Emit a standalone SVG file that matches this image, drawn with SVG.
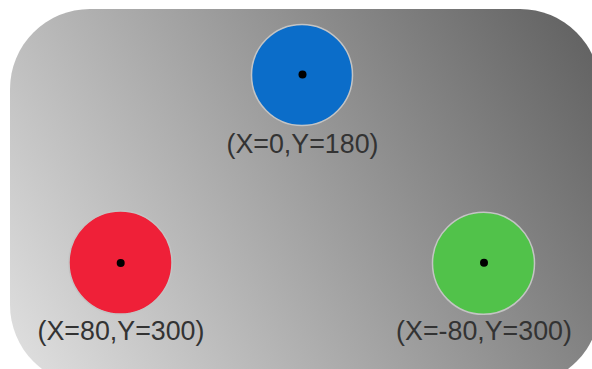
<svg xmlns="http://www.w3.org/2000/svg" width="592" height="369" viewBox="0 0 592 369">
  <defs>
    <linearGradient id="bg" gradientUnits="userSpaceOnUse" x1="10" y1="384" x2="600" y2="9">
      <stop offset="0" stop-color="#e2e2e2"/>
      <stop offset="1" stop-color="#5e5e5e"/>
    </linearGradient>
    <style>
      .node { stroke: #c4c4c4; stroke-width: 1.5; }
      .dot { fill: #000000; }
      .label { font-family: "Liberation Sans", Arial, sans-serif; font-size: 26.8px; fill: #333333; text-anchor: middle; }
    </style>
  </defs>
  <rect x="10" y="9" width="590" height="376" rx="80" ry="80" fill="url(#bg)"/>
  <g id="connectors"/>
  <g id="node-top">
    <circle class="node" cx="302" cy="75" r="50.5" fill="#0b6dc9"/>
    <circle class="dot" cx="302.5" cy="74.5" r="4"/>
    <text class="label" x="302.5" y="153">(X=0,Y=180)</text>
  </g>
  <g id="node-left">
    <circle class="node" cx="120.5" cy="262.5" r="51.5" fill="#ef2038"/>
    <circle class="dot" cx="120.7" cy="263" r="4"/>
    <text class="label" x="121" y="339.5">(X=80,Y=300)</text>
  </g>
  <g id="node-right">
    <circle class="node" cx="483.5" cy="263.3" r="51" fill="#51c24a"/>
    <circle class="dot" cx="484" cy="262.7" r="4"/>
    <text class="label" x="484" y="339.5">(X=-80,Y=300)</text>
  </g>
</svg>
